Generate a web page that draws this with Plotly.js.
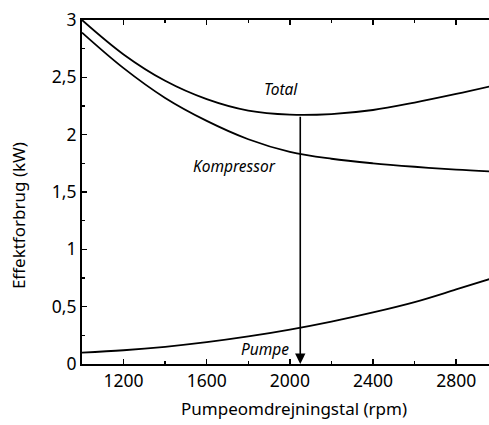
<!DOCTYPE html>
<html>
<head>
<meta charset="utf-8">
<script src="https://cdn.plot.ly/plotly-3.0.1.min.js"></script>
<style>html,body{margin:0;padding:0;background:#fff;}#chart{width:489px;height:425px;}</style>
</head>
<body>
<div id="chart"></div>
<script>
// Pump speed (rpm)
const rpm = [1000, 1200, 1400, 1600, 1800, 2000, 2200, 2400, 2600, 2800, 2960];
// Power consumption (kW)
const total = [3.00, 2.70, 2.47, 2.31, 2.21, 2.175, 2.18, 2.215, 2.28, 2.355, 2.42];
const kompressor = [2.89, 2.58, 2.32, 2.12, 1.96, 1.85, 1.79, 1.75, 1.72, 1.695, 1.68];
const pumpe = [0.10, 0.12, 0.15, 0.19, 0.24, 0.30, 0.37, 0.45, 0.54, 0.65, 0.74];
// Optimum point
const optRpm = [2050];
const optTotal = [2.17];
// Labels
const seriesNames = ["Total", "Kompressor", "Pumpe"];
const labelPos = [[1957, 2.40], [1736, 1.73], [1880, 0.13]];
const xTitle = "Pumpeomdrejningstal (rpm)";
const yTitle = "Effektforbrug (kW)";

const lineStyle = {color: "#000", width: 1.8, shape: "spline", smoothing: 1};
const data = [total, kompressor, pumpe].map((ys, i) => ({
  x: rpm, y: ys, type: "scatter", mode: "lines", name: seriesNames[i],
  line: lineStyle, hoverinfo: "skip"
}));

const font = "Noto Sans, DejaVu Sans, sans-serif";
const annotations = seriesNames.map((n, i) => ({
  x: labelPos[i][0], y: labelPos[i][1], xref: "x", yref: "y",
  text: "<i>" + n + "</i>", showarrow: false,
  font: {family: font, size: 15.5, color: "#000"}
}));
annotations.push({
  x: optRpm[0], y: 0, xref: "x", yref: "y",
  ax: optRpm[0], ay: optTotal[0], axref: "x", ayref: "y",
  showarrow: true, arrowhead: 2, arrowsize: 1.3, arrowwidth: 1.6, arrowcolor: "#000",
  text: "", standoff: 0
});
annotations.push({
  x: 0.52, y: 0, xref: "paper", yref: "paper", xanchor: "center", yanchor: "bottom",
  yshift: -58, text: xTitle, showarrow: false,
  font: {family: font, size: 17, color: "#000"}
});
annotations.push({
  x: 0, y: 0.43, xref: "paper", yref: "paper", xanchor: "center", yanchor: "middle",
  xshift: -64, textangle: -90, text: yTitle, showarrow: false,
  font: {family: font, size: 17, color: "#000"}
});

const layout = {
  width: 489, height: 425,
  margin: {l: 82, r: 0, t: 20, b: 61},
  paper_bgcolor: "#fff", plot_bgcolor: "#fff",
  showlegend: false,
  separators: ", ",
  font: {family: font, size: 17, color: "#000"},
  xaxis: {
    range: [1000, 2958], tick0: 1200, dtick: 400, ticks: "inside", ticklen: 5, tickwidth: 1.5,
    tickcolor: "#000", showline: true, linecolor: "#000", linewidth: 2, mirror: "ticks",
    showgrid: false, zeroline: false,
    minor: {dtick: 200, ticks: "inside", ticklen: 3, tickwidth: 1.5, tickcolor: "#000", showgrid: false},
    tickfont: {family: font, size: 17.5, color: "#000"}
  },
  yaxis: {
    range: [0, 3], dtick: 0.5, ticks: "inside", ticklen: 5, tickwidth: 1.5,
    tickcolor: "#000", showline: true, linecolor: "#000", linewidth: 2,
    showgrid: false, zeroline: false,
    minor: {dtick: 0.25, ticks: "inside", ticklen: 3, tickwidth: 1.5, tickcolor: "#000", showgrid: false},
    tickfont: {family: font, size: 17.5, color: "#000"}
  },
  annotations: annotations
};

Plotly.newPlot("chart", data, layout, {staticPlot: true});
</script>
</body>
</html>
